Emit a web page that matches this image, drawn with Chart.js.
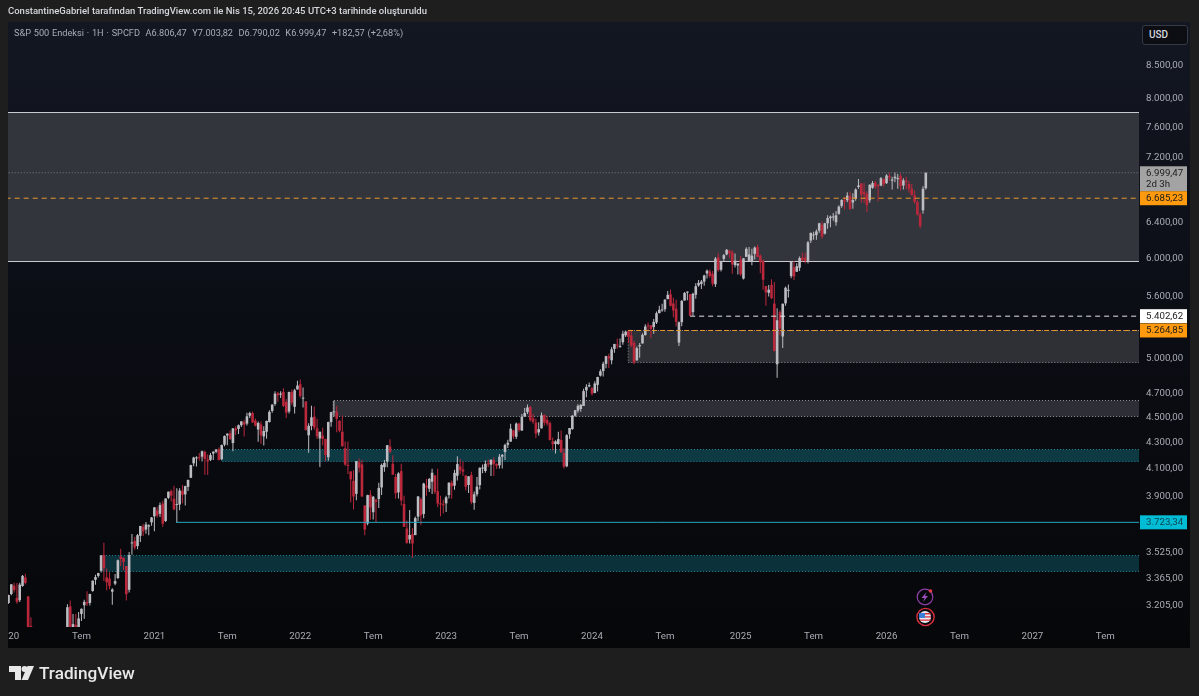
<!DOCTYPE html>
<html>
<head>
<meta charset="utf-8">
<title>S&amp;P 500</title>
<script src="https://cdn.jsdelivr.net/npm/chart.js@4"></script>
<style>
  html, body { margin: 0; padding: 0; background: #1e1e1e; overflow: hidden; }
  body { width: 1199px; height: 696px; position: relative; font-family: Roboto, sans-serif; }
  canvas { position: absolute; left: 0; top: 0; }
  .abs { position: absolute; white-space: nowrap; }
  #byline { left: 8px; top: 4px; font-size: 9.5px; font-weight: 500; color: #d6d8de; line-height: 14px; }
  #legend { left: 14px; top: 26px; font-size: 9.2px; color: #a9acb5; line-height: 13px; word-spacing: 0.5px; }
  #usd { left: 1142px; top: 25px; width: 46px; height: 20px; box-sizing: border-box; border: 1px solid #363a45;
         border-radius: 3px; background: #0c0e14; color: #d6d8de; font-size: 10px; font-weight: 500; line-height: 18px; padding-left: 6px; }
  #brand { left: 39px; top: 661px; font-size: 17.2px; font-weight: 500; color: #e8e8e8; line-height: 24px; }
</style>
</head>
<body>
<canvas id="chart" width="1199" height="696"></canvas>
<div class="abs" id="byline">ConstantineGabriel tarafından TradingView.com ile Nis 15, 2026 20:45 UTC+3 tarihinde oluşturuldu</div>
<div class="abs" id="legend">S&amp;P 500 Endeksi · 1H · SPCFD&nbsp; A6.806,47&nbsp; Y7.003,82&nbsp; D6.790,02&nbsp; K6.999,47&nbsp; +182,57 (+2,68%)</div>
<div class="abs" id="usd">USD</div>
<div class="abs" id="brand">TradingView</div>
<svg class="abs" style="left:8px;top:664px" width="28" height="18" viewBox="0 0 28 18">
  <path fill="#e8e8e8" d="M1 2h12v14H7V8H1z"/><circle fill="#e8e8e8" cx="16.5" cy="5" r="3"/><path fill="#e8e8e8" d="M19.5 2H26l-6 14h-6.5z"/>
</svg>
<svg class="abs" style="left:914px;top:587px" width="24" height="40" viewBox="0 0 24 40">
  <circle cx="11" cy="10" r="7.8" fill="none" stroke="#8e3fa8" stroke-width="1.2"/>
  <path fill="#9c4fc0" d="M12.5 5 7.5 11h3l-1.5 4 5-6h-3z"/><circle cx="16.5" cy="4" r="1.8" fill="#e53945"/>
  <circle cx="11.5" cy="30" r="8.6" fill="#0a0b10" stroke="#d9303d" stroke-width="1.4"/>
  <circle cx="11" cy="30" r="6" fill="#e8eaf0"/><path fill="#d9303d" d="M11 26h5.6v1.4H11zM11 29.2h6v1.4h-6zM6 32.4h10.6v1.4H6z"/><path fill="#3d7fd6" d="M5 26h6v5H5z"/>
</svg>

<script>
// S&P 500 weekly candles. Index 0 is the week of Jan 6 2020.
const opens = [
  3218,3271,3321,3248,3235,3319,3370,3257,2975,2863,2509,2344,2558,2578,2782,2846,2854,2815,2939,2914,3005,3038,3199,3012,3094,3018,3155,3205,3224,3219,3289,3356,3380,3411,3509,3371,3364,3285,3333,3367,3500,3493,3441,3296,3584,3601,3567,3634,3694,3675,3694,3723,
  3764,3804,3781,3851,3732,3892,3939,3886,3842,3845,3943,3916,3970,4035,4142,4179,4186,4192,4228,4170,4168,4216,4229,4248,4173,4284,4356,4372,4296,4409,4407,4437,4461,4450,4514,4536,4474,4403,4443,4348,4385,4463,4553,4610,4701,4689,4712,4628,4548,4710,4587,4733,
  4778,4655,4632,4357,4431,4506,4412,4332,4354,4328,4188,4462,4541,4547,4474,4385,4256,4130,4082,4013,3920,4151,4134,3839,3715,3913,3792,3881,3883,3965,4113,4155,4270,4138,4041,3930,4084,3849,3682,3610,3646,3638,3762,3882,3780,3978,3956,4006,4053,3939,3854,3843,
  3853,3911,3999,3978,4050,4119,4096,4052,3983,4055,3856,3917,3982,4103,4085,4138,4132,4166,4137,4127,4192,4227,4283,4308,4396,4345,4450,4395,4507,4543,4585,4492,4458,4380,4412,4521,4480,4454,4310,4288,4289,4321,4220,4120,4365,4406,4514,4555,4569,4594,4725,4759,
  4745,4703,4772,4853,4892,4957,5026,4989,5093,5130,5111,5154,5219,5258,5218,5149,4987,5116,5143,5221,5309,5315,5297,5341,5432,5459,5471,5572,5621,5528,5476,5151,5344,5557,5637,5623,5442,5616,5711,5727,5751,5836,5857,5833,5723,6009,5875,5992,6040,6083,6063,5924,5920,
  5982,5782,6014,5969,5969,6046,6121,6027,5969,5705,5636,5718,5527,4953,5441,5208,5529,5655,5808,5902,5854,5897,6005,6004,5970,6193,6250,6255,6305,6371,6271,6389,6449,6457,6401,6499,6593,6661,6661,6715,6633,6676,6822,6866,6759,6737,6660,6812,6875,6840,6840,6920,
  6870,6960,6900,6930,6920,6960,6840,6900,6860,6800,6720,6640,6490,6540,6806.47
];
const highs = [
  3267,3330,3338,3337,3338,3385,3393,3259,3137,2882,2562,2638,2641,2819,2880,2870,2955,2955,2945,2980,3068,3211,3233,3155,3155,3166,3186,3238,3287,3272,3352,3387,3399,3509,3588,3425,3402,3306,3392,3482,3550,3494,3441,3529,3646,3628,3646,3699,3712,3726,3711,3760,
  3827,3827,3859,3871,3887,3937,3951,3978,3960,3960,3983,3978,4020,4131,4192,4195,4219,4238,4238,4209,4219,4234,4249,4262,4286,4356,4372,4394,4415,4429,4442,4469,4480,4537,4546,4549,4492,4466,4466,4429,4475,4559,4608,4718,4714,4717,4743,4652,4713,4732,4740,4808,
  4819,4749,4632,4453,4596,4590,4490,4385,4416,4329,4465,4546,4637,4593,4475,4513,4309,4308,4082,4090,4159,4178,4168,3839,3914,3946,3905,3882,3999,4141,4167,4280,4325,4203,4062,4076,4139,3907,3736,3807,3685,3762,3905,3894,3999,4028,4034,4101,4053,4101,3907,3878,
  3907,4003,4015,4095,4195,4177,4156,4052,4046,4079,3937,4040,4110,4134,4164,4170,4170,4187,4143,4213,4212,4290,4322,4449,4401,4458,4456,4528,4578,4607,4595,4528,4491,4460,4541,4522,4510,4466,4339,4319,4385,4394,4256,4366,4415,4520,4560,4608,4609,4739,4778,4793,
  4755,4803,4842,4908,4975,5030,5048,5111,5140,5190,5189,5262,5265,5264,5263,5168,5114,5146,5239,5325,5342,5315,5376,5448,5506,5524,5571,5655,5669,5585,5566,5352,5563,5643,5650,5623,5636,5733,5768,5767,5823,5878,5878,5863,6012,6053,5972,6044,6099,6085,6086,6049,5943,
  6022,5998,6119,6121,6101,6128,6147,6043,5986,5705,5715,5776,5747,5481,5460,5528,5700,5720,5969,5968,5944,6017,6060,6059,6188,6285,6291,6317,6395,6409,6396,6482,6481,6508,6533,6600,6672,6700,6758,6765,6745,6808,6920,6870,6870,6770,6855,6895,6900,6860,6945,6930,
  6980,7000,6950,7002,6985,6990,6930,6950,6900,6860,6780,6660,6520,6830,7003.82
];
const lows = [
  3214,3264,3280,3214,3224,3315,3328,2855,2945,2478,2280,2191,2447,2578,2721,2727,2797,2798,2766,2914,2948,3026,2936,2966,3004,2999,3115,3128,3201,3204,3284,3327,3370,3401,3349,3293,3299,3209,3323,3361,3441,3415,3233,3280,3511,3543,3547,3594,3633,3648,3637,3700,
  3663,3754,3760,3694,3726,3884,3866,3805,3723,3805,3853,3838,3940,4035,4120,4118,4162,4156,4057,4056,4160,4167,4217,4165,4165,4271,4280,4321,4233,4360,4368,4422,4347,4435,4495,4455,4427,4306,4289,4278,4329,4459,4537,4596,4630,4660,4585,4495,4532,4600,4531,4733,
  4663,4582,4395,4222,4396,4401,4328,4115,4279,4157,4162,4424,4507,4381,4381,4267,4124,4062,3859,3810,3875,4074,3900,3637,3703,3741,3743,3721,3820,3911,4079,4112,4218,4057,3885,3887,3838,3693,3584,3583,3491,3640,3731,3704,3751,3906,3933,3919,3919,3827,3765,3783,
  3794,3887,3885,3949,4015,4061,4048,3943,3925,3846,3809,3901,3951,4069,4072,4114,4049,4049,4099,4103,4103,4166,4258,4305,4328,4328,4385,4390,4505,4527,4464,4449,4335,4356,4411,4434,4433,4317,4238,4216,4284,4222,4104,4113,4329,4400,4506,4537,4546,4593,4666,4752,
  4682,4700,4715,4845,4845,4918,4920,4954,5057,5095,5104,5130,5203,5147,5107,4953,4990,5012,5142,5218,5257,5191,5234,5327,5432,5447,5446,5570,5497,5391,5303,5120,5306,5557,5560,5402,5406,5576,5698,5674,5707,5784,5790,5702,5696,5853,5857,5964,6030,6005,5833,5899,5824,
  5809,5773,6014,5962,5923,5986,6013,5837,5666,5505,5598,5572,5069,4835,5220,5101,5505,5589,5786,5768,5854,5862,5964,5945,5943,6165,6201,6201,6281,6213,6260,6327,6343,6418,6360,6489,6570,6551,6636,6550,6560,6656,6800,6630,6630,6521,6630,6800,6800,6650,6830,6825,
  6860,6900,6790,6880,6800,6780,6790,6790,6750,6720,6620,6480,6330,6500,6790.02
];
const closes = [
  3265,3329,3295,3225,3327,3380,3337,2954,2972,2711,2304,2541,2489,2790,2875,2837,2830,2930,2864,2955,3044,3194,3041,3098,3009,3130,3185,3225,3215,3271,3351,3373,3397,3508,3427,3341,3319,3298,3348,3477,3484,3465,3270,3510,3585,3558,3638,3699,3663,3709,3703,3756,
  3825,3768,3841,3714,3887,3935,3907,3811,3842,3943,3913,3975,4020,4129,4185,4180,4181,4233,4174,4156,4204,4230,4247,4166,4281,4352,4370,4327,4412,4395,4437,4468,4442,4509,4535,4459,4433,4455,4357,4391,4471,4545,4605,4697,4683,4698,4595,4538,4712,4621,4726,4766,
  4677,4663,4398,4432,4501,4419,4349,4385,4329,4204,4463,4543,4546,4488,4393,4272,4132,4123,4024,3901,4158,4109,3901,3675,3911,3825,3899,3863,3962,4130,4145,4280,4228,4058,3924,4067,3873,3693,3586,3639,3583,3752,3901,3771,3993,3965,4026,4072,3934,3852,3845,3840,
  3895,3999,3973,4071,4136,4090,4080,3970,4046,3862,3917,3971,4109,4105,4138,4134,4169,4136,4124,4192,4205,4282,4299,4410,4348,4450,4399,4505,4536,4582,4478,4464,4370,4406,4516,4458,4450,4320,4288,4309,4327,4224,4117,4358,4415,4514,4559,4595,4604,4719,4755,4770,
  4697,4784,4840,4891,4958,5026,5006,5089,5137,5124,5117,5234,5254,5204,5123,4967,5100,5128,5223,5303,5305,5278,5347,5432,5465,5460,5567,5615,5505,5459,5347,5344,5554,5634,5648,5408,5626,5703,5738,5751,5815,5865,5808,5729,5995,5871,5969,6032,6090,6051,5931,5971,5942,
  5827,5997,6101,6040,6026,6115,6013,5955,5770,5639,5667,5581,5074,5363,5283,5525,5687,5660,5958,5803,5912,6000,5977,5968,6173,6279,6260,6297,6389,6238,6389,6450,6467,6460,6482,6584,6664,6644,6716,6553,6664,6791,6840,6729,6734,6603,6849,6870,6827,6834,6930,6858,
  6966,6940,6915,6950,6925,6835,6905,6880,6800,6720,6640,6490,6360,6800,6999.47
];

// time axis (weeks since Jan 6 2020) and price axis
const timeTickWeeks  = [1.85, 26, 52, 78, 104, 130, 156, 182, 208, 234, 261, 287, 313, 339, 365, 391];
const timeTickLabels = ['20', 'Tem', '2021', 'Tem', '2022', 'Tem', '2023', 'Tem', '2024', 'Tem', '2025', 'Tem', '2026', 'Tem', '2027', 'Tem'];
const priceTicks      = [8500, 8000, 7600, 7200, 6400, 6000, 5600, 5000, 4700, 4500, 4300, 4100, 3900, 3525, 3365, 3205];
const priceTickLabels = ['8.500,00', '8.000,00', '7.600,00', '7.200,00', '6.400,00', '6.000,00', '5.600,00', '5.000,00', '4.700,00', '4.500,00', '4.300,00', '4.100,00', '3.900,00', '3.525,00', '3.365,00', '3.205,00'];

// zones drawn on the chart
const zoneStarts  = [-1, 220.9, 115.7, 76, 33];
const zoneTops    = [7813, 5264.85, 4641, 4252, 3510];
const zoneBottoms = [5973, 4975, 4509, 4161, 3410];

// horizontal levels
const levelStarts = [-1, -1, 243, 220.9, 59.7];
const levelValues = [6999.47, 6685.23, 5402.62, 5264.85, 3723.34];
const levelLabels = ['6.999,47', '6.685,23', '5.402,62', '5.264,85', '3.723,34'];

const xMin = -0.18, xMax = 403;
const yMin = 3082, yMax = 9190;
const textFont = '9.7px Roboto, sans-serif';

const UP = '#bcbdc2', DOWN = '#bb283c';
const candleColors = closes.map((c, i) => c >= opens[i] ? UP : DOWN);

const zoneStyles = [
  { fill: '#33353c', line: '#c9cad0', dash: [] },
  { fill: '#2e3036', line: '#8f9197', dash: [1, 2] },
  { fill: '#2e2f36', line: '#8f9197', dash: [1, 2] },
  { fill: '#0e3a44', line: '#23808f', dash: [1, 2] },
  { fill: '#0b323b', line: '#23808f', dash: [1, 2] }
];
const levelStyles = [
  { color: '#7b7e86', dash: [1, 2], width: 1 },
  { color: '#e89a2c', dash: [5, 4], width: 1 },
  { color: '#e6e6e6', dash: [5, 4], width: 1 },
  { color: '#e89a2c', dash: [5, 3], width: 1 },
  { color: '#26a8c2', dash: [],     width: 1 }
];
const badgeStyles = [
  { bg: '#a3a3a3', text: '#1c1c1c', sub: '2d 3h' },
  { bg: '#ff9a0e', text: '#1c1c1c' },
  { bg: '#ffffff', text: '#1c1c1c' },
  { bg: '#ff9a0e', text: '#1c1c1c' },
  { bg: '#00bcd4', text: '#0d4650' }
];

// pane background, behind everything
const panePlugin = {
  id: 'pane',
  beforeDraw(chart) {
    const { ctx } = chart;
    const g = ctx.createLinearGradient(0, 22, 0, 648);
    g.addColorStop(0, '#131722');
    g.addColorStop(0.5, '#0b0d14');
    g.addColorStop(1, '#060709');
    ctx.fillStyle = g;
    ctx.fillRect(8, 22, 1182, 626);
  }
};

const zonesPlugin = {
  id: 'zones',
  beforeDatasetsDraw(chart) {
    const { ctx, chartArea: a, scales: { x, y } } = chart;
    ctx.save();
    ctx.beginPath();
    ctx.rect(a.left, a.top, a.right - a.left, a.bottom - a.top);
    ctx.clip();
    zoneStarts.forEach((start, i) => {
      const s = zoneStyles[i];
      const left = x.getPixelForValue(start);
      const top = Math.round(y.getPixelForValue(zoneTops[i])) + 0.5;
      const bottom = Math.round(y.getPixelForValue(zoneBottoms[i])) + 0.5;
      ctx.fillStyle = s.fill;
      ctx.fillRect(left, top, a.right - left, bottom - top);
      ctx.strokeStyle = s.line;
      ctx.lineWidth = 1;
      ctx.setLineDash(s.dash);
      ctx.beginPath();
      ctx.moveTo(a.right, top);
      ctx.lineTo(left, top);
      ctx.lineTo(left, bottom);
      ctx.lineTo(a.right, bottom);
      ctx.stroke();
    });
    ctx.restore();
  }
};

// price labels on the axis, over the tick column
const badgesPlugin = {
  id: 'badges',
  afterDraw(chart) {
    const { ctx, scales: { y } } = chart;
    ctx.save();
    ctx.font = textFont;
    ctx.textBaseline = 'middle';
    levelValues.forEach((value, i) => {
      const s = badgeStyles[i];
      const py = y.getPixelForValue(value);
      const h = s.sub ? 25 : 14;
      const top = s.sub ? py - 6.5 : py - 7;
      ctx.fillStyle = s.bg;
      ctx.fillRect(1140, top, 47, h);
      ctx.fillStyle = s.text;
      ctx.textAlign = 'left';
      ctx.fillText(levelLabels[i], 1146, top + 7);
      if (s.sub) ctx.fillText(s.sub, 1146, top + 18);
    });
    ctx.restore();
  }
};

const weeks = opens.map((o, i) => i);

new Chart(document.getElementById('chart').getContext('2d'), {
  type: 'bar',
  plugins: [panePlugin, zonesPlugin, badgesPlugin],
  data: {
    datasets: [
      ...levelValues.map((value, i) => ({
        type: 'line',
        order: 0,
        data: [{ x: levelStarts[i], y: value }, { x: xMax, y: value }],
        borderColor: levelStyles[i].color,
        borderDash: levelStyles[i].dash,
        borderWidth: levelStyles[i].width,
        pointRadius: 0
      })),
      {
        order: 1,
        data: weeks.map(i => ({ x: i, y: [lows[i], highs[i]] })),
        backgroundColor: candleColors,
        barThickness: 1,
        inflateAmount: 0
      },
      {
        order: 2,
        data: weeks.map(i => ({ x: i, y: [opens[i], closes[i]] })),
        backgroundColor: candleColors,
        barThickness: 2.6,
        minBarLength: 1,
        inflateAmount: 0
      }
    ]
  },
  options: {
    responsive: false,
    animation: false,
    grouped: false,
    layout: { padding: { left: 8, top: 22, right: 9, bottom: 48 } },
    plugins: { legend: { display: false }, tooltip: { enabled: false } },
    scales: {
      x: {
        type: 'linear',
        min: xMin,
        max: xMax,
        offset: false,
        grid: { display: false, drawTicks: false },
        border: { display: false },
        afterBuildTicks: s => { s.ticks = timeTickWeeks.map(v => ({ value: v })); },
        afterFit: s => { s.height = 21; },
        ticks: {
          autoSkip: false,
          maxRotation: 0,
          padding: 4,
          color: '#a9acb5',
          font: { family: 'Roboto, sans-serif', size: 9.7 },
          callback: (v, i) => timeTickLabels[i]
        }
      },
      y: {
        type: 'logarithmic',
        position: 'right',
        min: yMin,
        max: yMax,
        grid: { display: false, drawTicks: false },
        border: { display: false },
        afterBuildTicks: s => { s.ticks = priceTicks.map(v => ({ value: v })); },
        afterFit: s => { s.width = 51; },
        ticks: {
          autoSkip: false,
          padding: 7,
          crossAlign: 'near',
          color: '#a9acb5',
          font: { family: 'Roboto, sans-serif', size: 9.7 },
          callback: (v, i) => priceTickLabels[i]
        }
      }
    }
  }
});
</script>
</body>
</html>
